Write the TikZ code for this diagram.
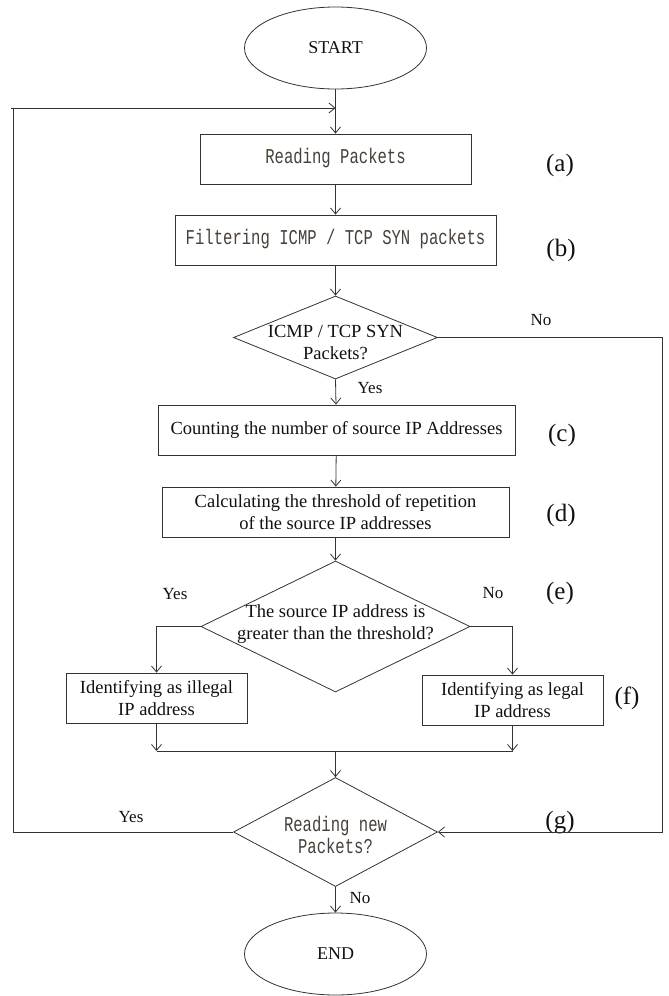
\documentclass[tikz,border=0pt]{standalone}
\usepackage{fontspec}
\setmainfont{Liberation Serif}
\newfontfamily\monofont{Liberation Mono}
\usetikzlibrary{shapes.geometric,arrows.meta}
\definecolor{linec}{HTML}{333333}
\definecolor{monoc}{RGB}{72,64,56}
\definecolor{textc}{HTML}{111111}
\newcommand{\mtext}[1]{\scalebox{1}[1.35]{\begin{tabular}{@{}c@{}}#1\end{tabular}}}
\begin{document}
\begin{tikzpicture}[x=1pt,y=-1pt,
  every node/.style={text=textc},
  arr/.style={draw=linec,line width=0.8pt,-{Straight Barb[length=6pt,width=10pt]}},
  ln/.style={draw=linec,line width=0.8pt},
  procbox/.style={draw=linec,line width=0.8pt,rectangle,inner sep=0pt,align=center,
     font=\fontsize{18.5}{22}\selectfont},
  monobox/.style={procbox,font=\fontsize{15.6}{17}\monofont,text=monoc},
  term/.style={draw=linec,line width=0.8pt,ellipse,inner sep=0pt,minimum width=182pt,minimum height=82pt,
     font=\fontsize{18}{21}\selectfont},
  decis/.style={draw=linec,line width=0.8pt,diamond,inner sep=0pt},
  difont/.style={font=\fontsize{18.5}{22}\selectfont,align=center},
  tag/.style={font=\fontsize{25}{28}\selectfont,inner sep=0pt},
  yn/.style={font=\fontsize{17}{20}\selectfont,inner sep=0pt}]
\useasboundingbox (0,0) rectangle (669,996);
% nodes
\node[term] (start) at (335.5,48) {START};
\node[monobox,minimum width=271pt,minimum height=50pt] (read) at (335.5,159) {\mtext{Reading Packets}};
\node[monobox,minimum width=321pt,minimum height=50pt] (filter) at (335.5,240) {\mtext{Filtering ICMP / TCP SYN packets}};
\node[decis,minimum width=204pt,minimum height=83pt] (d1) at (335.5,337.5) {};
\node[difont] (d1t) at (335.5,343) {ICMP / TCP SYN\\Packets?};
\node[procbox,minimum width=357pt,minimum height=50pt] (count) at (336.5,430) {Counting the number of source IP Addresses};
\node[procbox,minimum width=347pt,minimum height=50pt] (calc) at (335.5,512) {Calculating the threshold of repetition\\of the source IP addresses};
\node[decis,minimum width=269pt,minimum height=131pt] (d2) at (335.5,626.5) {};
\node[difont] (d2t) at (335.5,624.5) {The source IP address is\\greater than the threshold?};
\node[procbox,minimum width=181pt,minimum height=50pt] (illegal) at (156.5,698) {Identifying as illegal\\IP address};
\node[procbox,minimum width=181pt,minimum height=50pt] (legal) at (512.5,700) {Identifying as legal\\IP address};
\node[decis,minimum width=204pt,minimum height=109pt] (d3) at (335.5,832) {};
\node[font=\fontsize{15.6}{17}\monofont,text=monoc] (d3t) at (335.5,838) {\mtext{Reading new\\[-1pt]Packets?}};
\node[term] (end) at (335.5,954) {END};
% side labels
\node[tag] (la) at (560,165) {(a)};
\node[tag] (lb) at (561,250) {(b)};
\node[tag] (lc) at (562,435) {(c)};
\node[tag] (ld) at (561,515) {(d)};
\node[tag] (le) at (560,593) {(e)};
\node[tag] (lf) at (627,698) {(f)};
\node[tag] (lg) at (560,823) {(g)};
% yes/no labels
\node[yn] (y1) at (370,388) {Yes};
\node[yn] (n1) at (541,320) {No};
\node[yn] (y2) at (175,594) {Yes};
\node[yn] (n2) at (493,593) {No};
\node[yn] (y3) at (131,817) {Yes};
\node[yn] (n3) at (360,898) {No};
% coordinates
\coordinate (lj) at (335.5,108);
\coordinate (lc1) at (13,832);
\coordinate (lc2) at (13,108);
\coordinate (lc0) at (11,108);
\coordinate (rc1) at (662,337.5);
\coordinate (rc2) at (662,832);
\coordinate (bl) at (156.5,626.5);
\coordinate (br) at (512.5,626.5);
\coordinate (ml) at (156.5,751);
\coordinate (mr) at (512.5,751);
\coordinate (mm) at (335.5,751);
% connectors
\draw[arr] (start) -- (read);
\draw[ln] (lc0) -- (lc2);
\draw[arr] (d3.west) -- (lc1) -- (lc2) -- (lj);
\draw[arr] (read) -- (filter);
\draw[arr] (filter) -- (d1.north);
\draw[arr] (d1.south) -- (count);
\draw[arr] (d1.east) -- (rc1) -- (rc2) -- (d3.east);
\draw[arr] (count) -- (calc);
\draw[arr] (calc) -- (d2.north);
\draw[arr] (d2.west) -- (bl) -- (illegal.north);
\draw[arr] (d2.east) -- (br) -- (legal.north);
\draw[arr] (illegal.south) -- (ml);
\draw[arr] (legal.south) -- (mr);
\draw[ln] (ml) -- (mr);
\draw[arr] (mm) -- (d3.north);
\draw[arr] (d3.south) -- (end);
\end{tikzpicture}
\end{document}
